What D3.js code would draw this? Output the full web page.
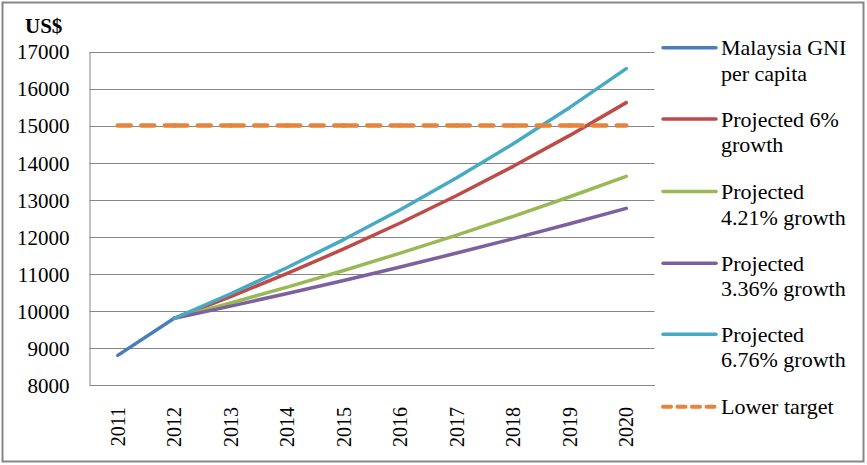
<!DOCTYPE html>
<html>
<head>
<meta charset="utf-8">
<script src="https://cdn.jsdelivr.net/npm/d3@7"></script>
<style>
	body { margin: 0; background: #fff; }
	svg text { font-family: "Liberation Serif"; fill: #000; }
</style>
</head>
<body>
<svg id="chart" width="867" height="465"></svg>
<script>

// data
const years = ['2011', '2012', '2013', '2014', '2015', '2016', '2017', '2018', '2019', '2020'];
const gniYears = ['2011', '2012'];
const gniValues = [8800, 9800];
const projYears = ['2012', '2013', '2014', '2015', '2016', '2017', '2018', '2019', '2020'];
const growth6 = [9800, 10388, 11011, 11672, 12372, 13115, 13901, 14736, 15620];
const growth421 = [9800, 10213, 10643, 11091, 11558, 12045, 12552, 13080, 13631];
const growth336 = [9800, 10129, 10470, 10821, 11185, 11561, 11949, 12351, 12766];
const growth676 = [9800, 10462, 11170, 11925, 12731, 13591, 14510, 15491, 16538];
const targetValues = [15000, 15000, 15000, 15000, 15000, 15000, 15000, 15000, 15000, 15000];
const yTicks = [8000, 9000, 10000, 11000, 12000, 13000, 14000, 15000, 16000, 17000];

const series = [
	{ name: ['Malaysia GNI', 'per capita'], x: gniYears, y: gniValues, color: '#4A7EBB' },
	{ name: ['Projected 6%', 'growth'], x: projYears, y: growth6, color: '#BE4B48' },
	{ name: ['Projected', '4.21% growth'], x: projYears, y: growth421, color: '#98B954' },
	{ name: ['Projected', '3.36% growth'], x: projYears, y: growth336, color: '#7D60A0' },
	{ name: ['Projected', '6.76% growth'], x: projYears, y: growth676, color: '#46AAC5' },
	{ name: ['Lower target'], x: years, y: targetValues, color: '#E5843A', dashed: true }
];

const serif = '"Liberation Serif"';

let svg = d3.select('#chart');

// outer frame
svg.append('rect')
	.attr('x', 2.5).attr('y', 2.5)
	.attr('width', 861).attr('height', 459)
	.attr('fill', '#fff')
	.attr('stroke', '#878787')
	.attr('stroke-width', 2);

let plotLeft = 89.5, plotRight = 654.5, plotTop = 51.5, plotBottom = 385;

let xScale = d3.scaleBand().domain(years).range([plotLeft, plotRight]);
let yScale = d3.scaleLinear().domain([8000, 17000]).range([plotBottom, plotTop]);
let cx = function(d) { return xScale(d) + xScale.bandwidth() / 2; };

// gridlines
svg.append('g').selectAll('line').data(yTicks).enter().append('line')
	.attr('x1', plotLeft).attr('x2', plotRight)
	.attr('y1', function(d) { return Math.round(yScale(d)) + 0.5; })
	.attr('y2', function(d) { return Math.round(yScale(d)) + 0.5; })
	.attr('stroke', '#868686')
	.attr('stroke-width', 1);

// y axis
let yAxis = svg.append('g')
	.attr('transform', 'translate(' + plotLeft + ',0)')
	.call(d3.axisLeft(yScale).tickValues(yTicks).tickSize(0).tickPadding(20).tickFormat(d3.format('d')));
yAxis.attr('font-family', null);
yAxis.select('.domain').attr('stroke', '#868686');
yAxis.selectAll('text')
	.style('font-size', '21px')
	.style('font-family', serif)
	.attr('dy', '0.35em');

// x axis
let xAxis = svg.append('g')
	.attr('transform', 'translate(0,' + plotBottom + ')')
	.call(d3.axisBottom(xScale).tickSize(0).tickPadding(0));
xAxis.attr('font-family', null);
xAxis.select('.domain').attr('stroke', '#868686');
xAxis.selectAll('text')
	.style('font-size', '20px')
	.style('font-family', serif)
	.attr('text-anchor', 'end')
	.attr('transform', 'translate(0,22) rotate(-90)')
	.attr('x', 0).attr('y', 0)
	.attr('dy', '0.35em');

// unit label
svg.append('text')
	.attr('x', 25).attr('y', 33)
	.style('font-family', serif)
	.style('font-size', '21px')
	.style('font-weight', 'bold')
	.text('US$');

// series lines
let line = d3.line()
	.x(function(d) { return cx(d.x); })
	.y(function(d) { return yScale(d.y); });

series.forEach(function(s) {
	let pts = s.x.map(function(x, i) { return { x: x, y: s.y[i] }; });
	if (s.dashed) {
		// dashes restart at every category point, like the original
		for (let i = 0; i < pts.length - 1; i++) {
			svg.append('path')
				.attr('d', line([pts[i], pts[i + 1]]))
				.attr('fill', 'none')
				.attr('stroke', s.color)
				.attr('stroke-width', 4.5)
				.attr('stroke-linecap', 'round')
				.attr('stroke-dasharray', '13,10.5');
		}
	} else {
		svg.append('path')
			.attr('d', line(pts))
			.attr('fill', 'none')
			.attr('stroke', s.color)
			.attr('stroke-width', 3.5)
			.attr('stroke-linecap', 'round')
			.attr('stroke-linejoin', 'round');
	}
});

// legend
let legendY = [47.7, 119, 191.5, 263.3, 334.3, 406.7];
let legend = svg.append('g').selectAll('g').data(series).enter().append('g')
	.attr('transform', function(d, i) { return 'translate(0,' + legendY[i] + ')'; });

legend.append('line')
	.attr('x1', 663).attr('x2', 716)
	.attr('y1', 0).attr('y2', 0)
	.attr('stroke', function(d) { return d.color; })
	.attr('stroke-width', function(d) { return d.dashed ? 4 : 3.5; })
	.attr('stroke-linecap', 'round')
	.attr('stroke-dasharray', function(d) { return d.dashed ? '8,6.5' : null; });

legend.each(function(d) {
	let t = d3.select(this).append('text')
		.attr('x', 721)
		.attr('y', 7.5)
		.style('font-family', serif)
		.style('font-size', '22px');
	d.name.forEach(function(n, j) {
		t.append('tspan').attr('x', 721).attr('dy', j === 0 ? 0 : 25.5).text(n);
	});
});

</script>
</body>
</html>
